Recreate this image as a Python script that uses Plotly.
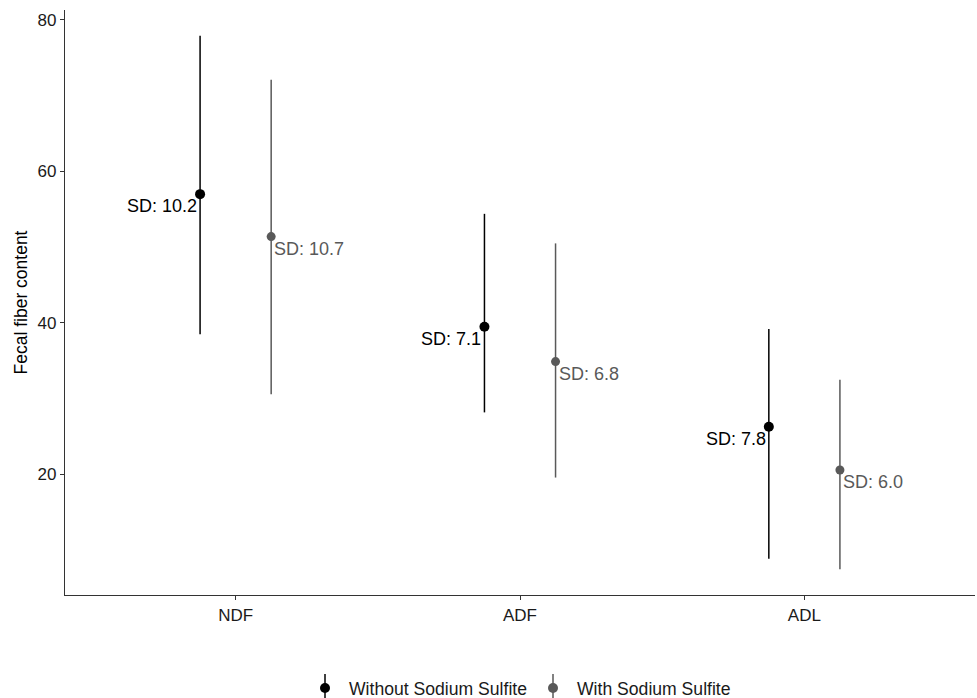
import plotly.graph_objects as go

categories = ["NDF", "ADF", "ADL"]
series_names = ["Without Sodium Sulfite", "With Sodium Sulfite"]
without_mean = [57.0, 39.5, 26.3]
without_upper = [77.9, 54.4, 39.2]
without_lower = [38.5, 28.2, 8.9]
without_sd = [10.2, 7.1, 7.8]
with_mean = [51.4, 34.9, 20.6]
with_upper = [72.1, 50.5, 32.5]
with_lower = [30.6, 19.6, 7.5]
with_sd = [10.7, 6.8, 6.0]

colors = ["#000000", "#595959"]
dodge = 0.125
font = "Liberation Sans, Arial, sans-serif"

# plot area in pixels (for paper-coordinate legend placement)
L, R, T, B = 65, 975, 10, 595
def px(x):
    return (x - L) / (R - L)
def py(y):
    return (B - y) / (B - T)

fig = go.Figure()
groups = [
    (without_mean, without_upper, without_lower, without_sd, -dodge, "right"),
    (with_mean, with_upper, with_lower, with_sd, dodge, "left"),
]
for i, (m, up, lo, sd, off, align) in enumerate(groups):
    xs = [k + 1 + off for k in range(len(categories))]
    fig.add_trace(go.Scatter(
        x=xs, y=m, mode="markers", name=series_names[i], showlegend=False,
        hoverinfo="skip",
        marker=dict(color=colors[i], size=10 if i == 0 else 9),
        error_y=dict(type="data", symmetric=False,
                     array=[u - v for u, v in zip(up, m)],
                     arrayminus=[v - l for v, l in zip(m, lo)],
                     color=colors[i], thickness=1.5, width=0),
    ))
    for x, y, s in zip(xs, m, sd):
        fig.add_annotation(
            x=x, y=y, text=f"SD: {s:.1f}", showarrow=False,
            xanchor=align, yanchor="top",
            xshift=-1 if align == "right" else 1, yshift=0,
            font=dict(family=font, size=18, color=colors[i]))

# manual legend (pointrange glyph: dot with vertical line)
legend_pos = [(325, 347), (553, 575)]
for i, (gx, tx) in enumerate(legend_pos):
    fig.add_shape(type="line", xref="paper", yref="paper",
                  x0=px(gx), x1=px(gx), y0=py(674), y1=py(702),
                  line=dict(color=colors[i], width=1.5))
    fig.add_shape(type="circle", xref="paper", yref="paper",
                  x0=px(gx - 5), x1=px(gx + 5), y0=py(693), y1=py(683),
                  fillcolor=colors[i], line=dict(color=colors[i], width=0))
    fig.add_annotation(xref="paper", yref="paper", x=px(tx), y=py(689),
                       text=series_names[i], showarrow=False,
                       xanchor="left", yanchor="middle",
                       font=dict(family=font, size=17.6, color="#1a1a1a"))

fig.update_layout(
    width=977, height=698,
    margin=dict(l=L, r=977 - R, t=T, b=698 - B),
    plot_bgcolor="white", paper_bgcolor="white",
    font=dict(family=font, size=17, color="#1a1a1a"),
    showlegend=False,
    hovermode=False,
    xaxis=dict(range=[0.4, 3.6], tickvals=[1, 2, 3], ticktext=categories,
               automargin=False,
               showgrid=False, zeroline=False, showline=True, linecolor="#333",
               linewidth=1.3, ticks="outside", ticklen=4, tickcolor="#333",
               tickfont=dict(size=17, color="#1a1a1a")),
    yaxis=dict(range=[4.1, 81.3], tickvals=[20, 40, 60, 80],
               automargin=False,
               showgrid=False, zeroline=False, showline=True, linecolor="#333",
               linewidth=1.3, ticks="outside", ticklen=4, tickcolor="#333",
               tickfont=dict(size=17, color="#1a1a1a"),
               title=dict(text="Fecal fiber content", font=dict(size=17.5, color="#000"),
                          standoff=5)),
)

fig.write_html("out.html",
               config={"displayModeBar": False},
               post_script="document.body.style.margin='0';document.body.style.overflow='hidden';")
